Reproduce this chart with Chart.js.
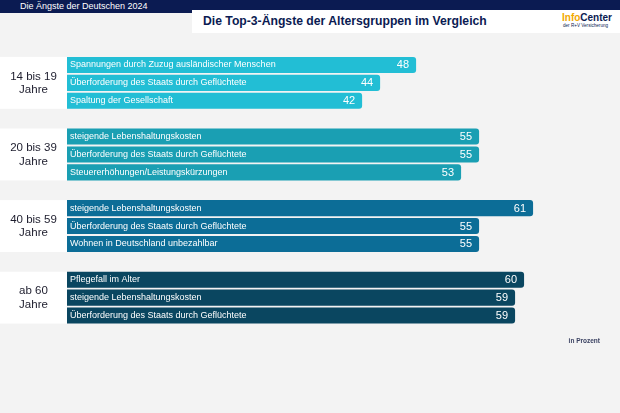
<!DOCTYPE html>
<html lang="de">
<head>
<meta charset="utf-8">
<script src="https://cdn.jsdelivr.net/npm/chart.js@4/dist/chart.umd.min.js"></script>
<style>
  html,body{margin:0;padding:0;background:#f3f3f3;}
  #wrap{position:relative;width:620px;height:413px;overflow:hidden;font-family:"Liberation Sans",Arial,sans-serif;}
  #band{position:absolute;left:0;top:0;width:620px;height:13px;background:#0b1b52;}
  #band2{position:absolute;left:192px;top:0;width:428px;height:10px;background:#0b1b52;}
  #sub{position:absolute;left:20px;top:1px;font-size:9px;line-height:11px;color:#ffffff;}
  #titlebox{position:absolute;left:192px;top:10px;width:428px;height:23px;background:#ffffff;}
  #title{position:absolute;left:11px;top:3px;font-size:12.2px;line-height:17px;font-weight:bold;color:#0b1b52;white-space:nowrap;}
  #logo{position:absolute;left:370px;top:1px;font-size:10px;line-height:13px;font-weight:bold;white-space:nowrap;}
  #logo .a{color:#f2a900;} #logo .b{color:#0b1b52;}
  #logo2{position:absolute;left:371px;top:13px;font-size:4.6px;line-height:6px;color:#0b1b52;white-space:nowrap;}
  #note{position:absolute;right:20px;top:336px;font-size:6.5px;line-height:9px;color:#3b4262;font-weight:bold;}
  canvas{position:absolute;left:0;top:0;}
</style>
</head>
<body>
<div id="wrap">
  <canvas id="c" width="620" height="413"></canvas>
  <div id="band"></div>
  <div id="band2"></div>
  <div id="sub">Die Ängste der Deutschen 2024</div>
  <div id="titlebox">
    <div id="title">Die Top-3-Ängste der Altersgruppen im Vergleich</div>
    <div id="logo"><span class="a">Info</span><span class="b">Center</span></div>
    <div id="logo2">der R+V Versicherung</div>
  </div>
  <div id="note">in Prozent</div>
</div>
<script>
// ---- data ----
const groupLabels = [["14 bis 19", "Jahre"], ["20 bis 39", "Jahre"], ["40 bis 59", "Jahre"], ["ab 60", "Jahre"]];
const topics14 = ["Spannungen durch Zuzug ausländischer Menschen", "Überforderung des Staats durch Geflüchtete", "Spaltung der Gesellschaft"];
const values14 = [48, 44, 42];
const topics20 = ["steigende Lebenshaltungskosten", "Überforderung des Staats durch Geflüchtete", "Steuererhöhungen/Leistungskürzungen"];
const values20 = [55, 55, 53];
const topics40 = ["steigende Lebenshaltungskosten", "Überforderung des Staats durch Geflüchtete", "Wohnen in Deutschland unbezahlbar"];
const values40 = [61, 55, 55];
const topics60 = ["Pflegefall im Alter", "steigende Lebenshaltungskosten", "Überforderung des Staats durch Geflüchtete"];
const values60 = [60, 59, 59];
const groupColors = ["#22bed5", "#1a9fb3", "#0c6d97", "#0a4660"];

// ---- build rows (3 bars per group, one empty spacer slot between groups) ----
const groupTopics = [topics14, topics20, topics40, topics60];
const groupValues = [values14, values20, values40, values60];
const labels = [], data = [], colors = [], groupOfRow = [];
groupTopics.forEach((t, g) => {
  if (g > 0) { labels.push(""); data.push(null); colors.push("rgba(0,0,0,0)"); groupOfRow.push(-1); }
  t.forEach((name, i) => {
    labels.push(name); data.push(groupValues[g][i]); colors.push(groupColors[g]); groupOfRow.push(g);
  });
});

const X_MIN = 9.2, X_MAX = 69.55;

const overlay = {
  id: "overlay",
  beforeDatasetsDraw(chart) {
    const ctx = chart.ctx, meta = chart.getDatasetMeta(0), left = chart.chartArea.left;
    ctx.save();
    groupLabels.forEach((gl, g) => {
      const rows = meta.data.filter((el, i) => groupOfRow[i] === g);
      const top = rows[0].y - rows[0].height / 2;
      const bot = rows[rows.length - 1].y + rows[rows.length - 1].height / 2;
      ctx.fillStyle = "#ffffff";
      ctx.fillRect(0, top, left, bot - top);
      ctx.fillStyle = "#1c1c2c";
      ctx.font = "11.5px 'Liberation Sans', Arial, sans-serif";
      ctx.textAlign = "center";
      ctx.textBaseline = "middle";
      const cy = (top + bot) / 2;
      ctx.fillText(gl[0], left / 2, cy - 6.5);
      ctx.fillText(gl[1], left / 2, cy + 7);
    });
    ctx.restore();
  },
  afterDatasetsDraw(chart) {
    const ctx = chart.ctx, meta = chart.getDatasetMeta(0), left = chart.chartArea.left;
    ctx.save();
    ctx.fillStyle = "#ffffff";
    ctx.textBaseline = "middle";
    meta.data.forEach((el, i) => {
      if (data[i] === null) return;
      ctx.font = "9px 'Liberation Sans', Arial, sans-serif";
      ctx.textAlign = "left";
      ctx.fillText(labels[i], left + 3, el.y);
      ctx.font = "11px 'Liberation Sans', Arial, sans-serif";
      ctx.textAlign = "right";
      ctx.fillText(String(data[i]), el.x - 7, el.y + 0.5);
    });
    ctx.restore();
  }
};

new Chart(document.getElementById("c"), {
  type: "bar",
  data: {
    labels: labels,
    datasets: [{
      data: data,
      backgroundColor: colors,
      base: X_MIN,
      borderRadius: 3,
      borderSkipped: "start",
      categoryPercentage: 1,
      barPercentage: 0.9
    }]
  },
  options: {
    indexAxis: "y",
    responsive: false,
    animation: false,
    devicePixelRatio: 1,
    layout: { padding: { left: 67, right: 10, top: 56, bottom: 88.5 } },
    plugins: { legend: { display: false }, tooltip: { enabled: false } },
    scales: {
      x: { type: "linear", min: X_MIN, max: X_MAX, display: false },
      y: { display: false }
    }
  },
  plugins: [overlay]
});
</script>
</body>
</html>
